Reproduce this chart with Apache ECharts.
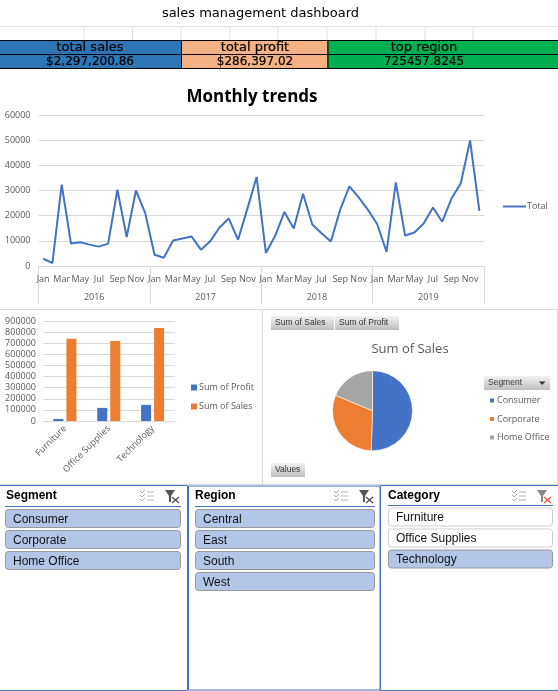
<!DOCTYPE html>
<html><head><meta charset="utf-8">
<style>html,body{margin:0;padding:0;background:#fff}#c{width:558px;height:691px}</style>
<script src="https://cdn.jsdelivr.net/npm/echarts@6/dist/echarts.min.js"></script>
</head><body><div id="c"></div>
<script>
const monthLabels = ['Jan','Feb','Mar','Apr','May','Jun','Jul','Aug','Sep','Oct','Nov','Dec'];
const years = ['2016','2017','2018','2019'];
const monthlyTotals = [
  2900,1200,32300,8900,9400,8500,7700,8900,30300,11500,30000,21000,
  4500,3300,10100,10900,11700,6500,9800,15300,18900,10400,22700,35400,
  5200,12000,21500,14900,28700,16500,13000,9700,22300,31600,27300,22300,
  16600,5600,33200,12100,13300,16900,23200,17600,26800,32900,49900,21900];
const categories = ['Furniture','Office Supplies','Technology'];
const sumOfProfit = [18000,118000,145000];
const sumOfSales = [740000,720000,836000];
const segments = ['Consumer','Corporate','Home Office'];
const segmentSales = [1160000,706000,430000];
const regions = ['Central','East','South','West'];
const categorySelected = [false,false,true];
const kpiHeads = ['total sales','total profit','top region'];
const kpiValues = ['$2,297,200.86','$286,397.02','725457.8245'];

const BLUE='#4472C4', ORANGE='#ED7D31', GREY='#A5A5A5', GRID='#D9D9D9', TXT='#595959';
const FONT='"Open Sans","Liberation Sans",sans-serif';
const g=[];
function rect(x,y,w,h,fill,stroke,r,lw){g.push({type:'rect',silent:true,shape:{x,y,width:w,height:h,r:r||0},style:{fill:fill||'transparent',stroke:stroke||null,lineWidth:lw||1}});}
function line(x1,y1,x2,y2,c,lw){g.push({type:'line',silent:true,shape:{x1,y1,x2,y2},style:{stroke:c,lineWidth:lw||1}});}
function text(x,y,s,font,fill,align,sw){g.push({type:'text',silent:true,x,y,style:{text:s,font,fill:fill||'#000',align:align||'left',verticalAlign:'middle',stroke:sw?(fill||'#000'):null,lineWidth:sw||0}});}
function grad(){return new echarts.graphic.LinearGradient(0,0,0,1,[{offset:0,color:'#F2F2F2'},{offset:1,color:'#BDBDBD'}]);}

// sheet gridlines
line(0,26.5,558,26.5,'#E0E0E0');
[84,132.5,181,230,278,327,376,425,473].forEach(x=>line(x,27,x,40,'#E0E0E0'));
line(0,309.5,558,309.5,GRID,1);
line(262.5,309.5,262.5,484.5,GRID,1);
line(0,484.5,558,484.5,GRID,1);
line(557.5,309.5,557.5,484.5,GRID,1);

// KPI table
const kpiX=[[-1,181],[181,327.5],[327.5,559]], kpiC=['#2E75B6','#F4B183','#00B050'], kpiCx=[90,255,424];
kpiHeads.forEach((h,i)=>{
  const [a,b]=kpiX[i];
  rect(a+.5,40.5,b-a,14,kpiC[i],'#000');
  rect(a+.5,54.5,b-a,14,kpiC[i],'#000');
  text(kpiCx[i],47.5,h,'13px "DejaVu Sans"','#000','center',.2);
  text(kpiCx[i],61.5,kpiValues[i],'12px "DejaVu Sans"','#000','center',.2);
});

// pivot buttons
function pivotBtn(x,y,w,s){
  g.push({type:'rect',silent:true,shape:{x,y,width:w,height:14},style:{fill:grad()}});
  text(x+4,y+7,s,'8.5px "Liberation Sans"','#333');
}
pivotBtn(271,316,63,'Sum of Sales');
pivotBtn(335,316,64,'Sum of Profit');
pivotBtn(271,463,34,'Values');
pivotBtn(484,376,66,'Segment');
g.push({type:'polygon',silent:true,shape:{points:[[539,381.5],[545.5,381.5],[542.2,385]]},style:{fill:'#333'}});

// slicers
function icons(x,y,red){
  [0,4,8].forEach(d=>{line(x+7,y+2+d,x+14,y+2+d,'#B5B5B5',1);
    g.push({type:'polyline',silent:true,shape:{points:[[x,y+1+d],[x+2,y+3+d],[x+5,y+d]]},style:{stroke:'#AAA',fill:null,lineWidth:1}});});
  g.push({type:'polygon',silent:true,shape:{points:[[x+25,y],[x+35,y],[x+31,y+6],[x+31,y+12],[x+29,y+12],[x+29,y+6]]},style:{fill:red?'#8A8A8A':'#555'}});
  const c=red?'#E8604C':'#555';
  line(x+32,y+7,x+39,y+13,c,1.5); line(x+39,y+7,x+32,y+13,c,1.5);
}
function slicer(bx,by,bw,bh,title,tx,uy,ux1,ux2,items,selected,iy,ih,step,lw,red){
  rect(bx,by,bw,bh,'#fff',BLUE,0,lw);
  text(tx,496,title,'bold 12px "Liberation Sans"','#000');
  line(ux1,uy,ux2,uy,BLUE,1);
  icons(ux2-41,490,red);
  items.forEach((s,i)=>{
    const y=iy+i*step, on=selected[i];
    rect(ux1+.5,y,ux2-ux1-1,ih,on?'#B4C6E7':'#fff',on?'#999':'#CFCFCF',3,1);
    text(ux1+8,y+ih/2+1,s,'12px "Liberation Sans"','#111');
  });
}
slicer(-1,485.5,188.5,205,'Segment',6,506.5,5,181,segments,[true,true,true],509.5,18,21,1);
slicer(188.5,486,191.5,204,'Region',195,506.5,195,375,regions,[true,true,true,true],509.5,18,21,1);
slicer(380.5,485.5,178,205,'Category',388,505.5,388,553,categories,categorySelected,508,18,21,1,true);

const allMonths=[]; years.forEach(()=>allMonths.push(...monthLabels));
const plain=v=>String(v);

const option={
  animation:false,
  backgroundColor:'#fff',
  textStyle:{fontFamily:FONT},
  title:[
    {text:'sales management dashboard',left:255.5,top:2,textAlign:'center',textStyle:{fontFamily:'"DejaVu Sans"',fontSize:13,fontWeight:'normal',color:'#000'}},
    {text:'Monthly trends',left:247,top:84,textAlign:'center',textStyle:{fontFamily:FONT,fontSize:17,fontWeight:'bold',color:'#000'}},
    {text:'Sum of Sales',left:405,top:338,textAlign:'center',textStyle:{fontFamily:FONT,fontSize:13,fontWeight:'normal',color:TXT}}
  ],
  grid:[
    {left:38.5,top:115,width:445.5,height:151},
    {left:43,top:321,width:131.5,height:100}
  ],
  xAxis:[
    {gridIndex:0,type:'category',data:allMonths,axisLine:{lineStyle:{color:GRID}},axisTick:{show:false},
     axisLabel:{interval:1,hideOverlap:false,fontSize:9,color:TXT,margin:9,fontFamily:FONT}},
    {gridIndex:0,type:'category',data:years,position:'bottom',axisLine:{show:false},
     axisTick:{show:true,length:38,lineStyle:{color:GRID}},
     axisLabel:{fontSize:9,color:TXT,margin:27,fontFamily:FONT}},
    {gridIndex:1,type:'category',data:categories,axisLine:{lineStyle:{color:GRID}},axisTick:{show:false},
     axisLabel:{interval:0,rotate:45,fontSize:9,color:TXT,margin:6,fontFamily:FONT}}
  ],
  yAxis:[
    {gridIndex:0,type:'value',min:0,max:60000,interval:10000,axisLine:{show:false},axisTick:{show:false},
     splitLine:{lineStyle:{color:GRID}},axisLabel:{formatter:plain,fontSize:9,color:TXT,margin:8,fontFamily:FONT}},
    {gridIndex:1,type:'value',min:0,max:900000,interval:100000,axisLine:{show:false},axisTick:{show:false},
     splitLine:{lineStyle:{color:GRID}},axisLabel:{formatter:plain,fontSize:9,color:TXT,margin:7,fontFamily:FONT}}
  ],
  legend:[
    {show:true,data:[{name:'Total',icon:'rect'}],left:503,top:202,itemWidth:23,itemHeight:2,itemGap:4,
     textStyle:{fontSize:9,color:TXT,padding:[0,0,0,-4]},selectedMode:false,padding:0},
    {data:['Sum of Profit','Sum of Sales'],orient:'vertical',left:191,top:383,itemWidth:6,itemHeight:6,itemGap:10,icon:'rect',
     textStyle:{fontSize:9,color:TXT,padding:[0,0,0,-3]},selectedMode:false,padding:0},
    {data:segments,orient:'vertical',left:488,top:396,itemWidth:6,itemHeight:6,itemGap:9.5,icon:'rect',
     textStyle:{fontSize:9,color:TXT,padding:[0,0,0,-3]},selectedMode:false,padding:0}
  ],
  series:[
    {name:'Total',type:'line',xAxisIndex:0,yAxisIndex:0,data:monthlyTotals,showSymbol:false,
     lineStyle:{color:BLUE,width:2},itemStyle:{color:BLUE}},
    {name:'Sum of Profit',type:'bar',xAxisIndex:2,yAxisIndex:1,data:sumOfProfit,barWidth:10,barGap:'30%',itemStyle:{color:BLUE}},
    {name:'Sum of Sales',type:'bar',xAxisIndex:2,yAxisIndex:1,data:sumOfSales,barWidth:10,itemStyle:{color:ORANGE}},
    {name:'Sum of Sales by Segment',type:'pie',center:[372.5,410.7],radius:[0,40],startAngle:90,clockwise:true,
     data:segments.map((n,i)=>({name:n,value:segmentSales[i],itemStyle:{color:[BLUE,ORANGE,GREY][i]}})),
     label:{show:false},labelLine:{show:false},itemStyle:{borderColor:'#fff',borderWidth:.6},emphasis:{disabled:true}}
  ],
  graphic:{elements:g}
};
echarts.init(document.getElementById('c')).setOption(option);
</script></body></html>
